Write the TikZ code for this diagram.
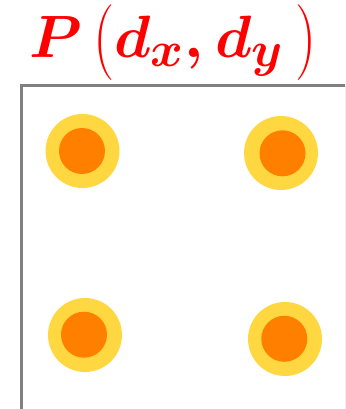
\documentclass[tikz,border=0pt]{standalone}
\usepackage{amsmath}
\usepackage{graphicx}
\newcommand\tallopen{\mathopen{\vcenter{\hbox{\scalebox{1}[1.27]{\normalfont(}}}}}
\newcommand\tallclose{\mathclose{\vcenter{\hbox{\scalebox{1}[1.27]{\normalfont)}}}}}
\definecolor{ringyellow}{HTML}{FFD740}
\definecolor{coreorange}{HTML}{FF7F00}
\definecolor{boxgray}{HTML}{808080}
\begin{document}
\begin{tikzpicture}[x=1pt,y=-1pt,
  ring/.style={circle,fill=ringyellow,minimum size=74pt,inner sep=0pt},
  core/.style={circle,fill=coreorange,minimum size=46pt,inner sep=0pt},
  frame/.style={draw=boxgray,line width=3pt}]
\useasboundingbox (0,0) rectangle (345,409);
\clip (0,0) rectangle (345,409);
\node[frame,minimum width=325.5pt,minimum height=325pt,inner sep=0pt,anchor=north west] (box) at (19.5,84) {};
\node[ring] (r1) at (82.5,151) {};
\node[core] (c1) at (82,151) {};
\node[ring] (r2) at (281,153) {};
\node[core] (c2) at (282.5,153.3) {};
\node[ring] (r3) at (85,335) {};
\node[core] (c3) at (84,334.7) {};
\node[ring] (r4) at (285,339) {};
\node[core] (c4) at (284.3,338.8) {};
\node[text=red,anchor=base,inner sep=0pt,scale=2.4,font=\Huge\boldmath] (title) at (173,58) {$P\,\tallopen d_x, d_y\,\tallclose$};
\end{tikzpicture}
\end{document}
